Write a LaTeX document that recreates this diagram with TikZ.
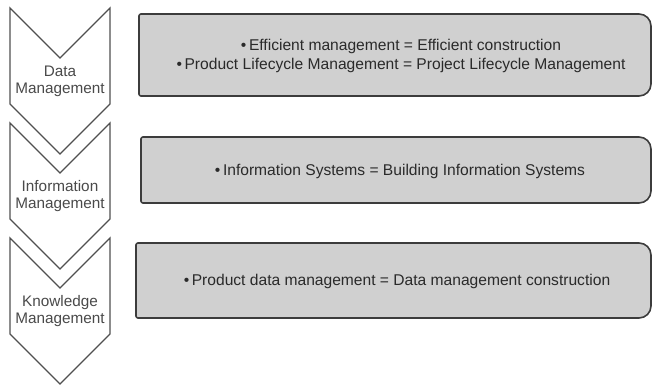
\documentclass[tikz,border=0pt]{standalone}
\usepackage{fontspec}
\setmainfont{Liberation Sans}
\definecolor{boxfill}{HTML}{D0D0D0}
\definecolor{boxline}{HTML}{3C3C3C}
\definecolor{chevline}{HTML}{505050}
\definecolor{chevtext}{HTML}{4A4A4A}
\definecolor{boxtext}{HTML}{2A2A2A}
\tikzset{
  chevshape/.style={draw=chevline, fill=white, line width=1.4pt, line join=miter},
  infobox/.style={draw=boxline, fill=boxfill, line width=1.6pt},
  chevlabel/.style={text=chevtext, align=center, font=\fontsize{15.3}{17}\selectfont, inner sep=0pt},
  boxlabel/.style={text=boxtext, align=center, font=\fontsize{15.6}{19}\selectfont, inner sep=0pt},
}
\begin{document}
\begin{tikzpicture}[x=1pt,y=-1pt]
\useasboundingbox (0,0) rectangle (653,385);
% chevrons
\foreach \t in {8,123,238}{
  \draw[chevshape] (10,\t) -- (60,\t+50) -- (110,\t) -- (110,\t+96) -- (60,\t+146) -- (10,\t+96) -- cycle;
}
\node[chevlabel] (c1) at (60,81) {Data\\Management};
\node[chevlabel] (c2) at (60,196) {Information\\Management};
\node[chevlabel] (c3) at (60,311) {Knowledge\\Management};
% boxes
\draw[infobox] (139,55) [rounded corners=2pt] -- (139,96) -- (400,96) [rounded corners=12pt] -- (651,96) -- (651,14) -- (400,14) [rounded corners=2pt] -- (139,14) -- cycle;
\draw[infobox] (141,170) [rounded corners=2pt] -- (141,203) -- (400,203) [rounded corners=12pt] -- (651,203) -- (651,137) -- (400,137) [rounded corners=2pt] -- (141,137) -- cycle;
\draw[infobox] (136,280) [rounded corners=2pt] -- (136,318) -- (400,318) [rounded corners=12pt] -- (651,318) -- (651,243) -- (400,243) [rounded corners=2pt] -- (136,243) -- cycle;
\node[boxlabel] (b1) at (401,56) {•\,Efficient management = Efficient construction\\•\,Product Lifecycle Management = Project Lifecycle Management};
\node[boxlabel] (b2) at (400,171) {•\,Information Systems = Building Information Systems};
\node[boxlabel] (b3) at (397,281) {•\,Product data management = Data management construction};
\end{tikzpicture}
\end{document}
